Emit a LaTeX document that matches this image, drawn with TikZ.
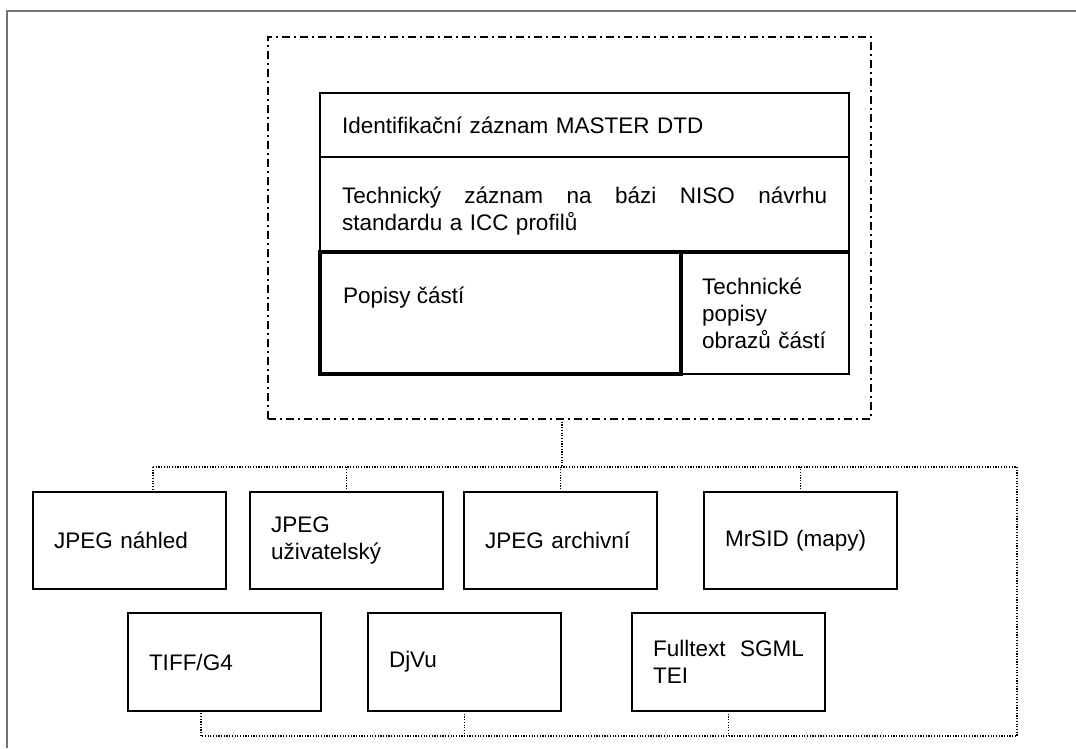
\documentclass[tikz,border=0pt]{standalone}
\usepackage{fontspec}
\setmainfont{Liberation Sans}
\usetikzlibrary{positioning}

\tikzset{
  cell/.style={draw, line width=1.2pt, anchor=north west, inner xsep=21pt, inner ysep=0pt, outer sep=0pt, align=left},
  fmtbox/.style={cell, text width=151pt, minimum height=97pt},
  dotline/.style={line width=1.2pt, dash pattern=on 1.2pt off 1.5pt},
  dashdotline/.style={line width=2pt, dash pattern=on 8pt off 4pt on 2pt off 4pt}
}

\begin{document}
\begin{tikzpicture}[x=1pt, y=-1pt, font=\fontsize{22.5}{27}\selectfont]
\useasboundingbox (0,0) rectangle (1076,748);
\draw[black!55, line width=1.5pt] (7,748) -- (7,11) -- (1076,11);

% master zaznam
\node[draw, dashdotline, anchor=north west, minimum width=603pt, minimum height=382pt, outer sep=0pt] (master) at (268,37) {};
\node[cell, text width=485pt, inner xsep=22pt, minimum height=64pt] (ident) at (320,93) {Identifikační záznam MASTER DTD};
\node[cell, minimum width=529pt, minimum height=95pt] (tech) at (320,157) {};
\node[anchor=north west, inner sep=0pt, align=left, text width=485pt] (techtxt) at (342,187)
  {\hbox to 485pt{Technický\hfill záznam\hfill na\hfill bázi\hfill NISO\hfill návrhu}\\standardu a ICC profilů};
\node[cell, text width=126pt, minimum height=122pt] (obraz) at (681,252) {Technické\\popisy\\obrazů částí};
\node[cell, line width=4pt, minimum width=361pt, minimum height=122pt] (popisy) at (320,252) {};
\draw[line width=4pt] (popisy.north east) -- (obraz.north east);
\node[anchor=west, inner sep=0pt] (popisytxt) at (343,298) {Popisy částí};

% formaty
\node[fmtbox] (nahled) at (33,492) {JPEG náhled};
\node[fmtbox] (uziv) at (250,492) {JPEG\\uživatelský};
\node[fmtbox] (arch) at (464,492) {JPEG archivní};
\node[fmtbox] (mrsid) at (704,492) {MrSID (mapy)};
\node[fmtbox, minimum height=98pt] (tiff) at (128,613) {TIFF/G4};
\node[fmtbox, minimum height=98pt] (djvu) at (368,613) {DjVu};
\node[fmtbox, minimum height=98pt] (fulltext) at (632,613) {\hbox to 151pt{Fulltext\hfill SGML}\\TEI};

% spojnice
\coordinate (busL) at (153,467);
\coordinate (busR) at (1017,467);
\coordinate (busB) at (1017,736);
\coordinate (busE) at (201,736);
\coordinate (drop) at (562,467);
\draw[dotline] (busL) -- (busR) -- (busB) -- (busE);
\draw[dotline] (drop |- master.south) -- (drop);
\draw[dotline] (busL) -- (busL |- nahled.north);
\draw[dotline] (uziv.north) -- (uziv.north |- busL);
\draw[dotline] (arch.north) -- (arch.north |- busL);
\draw[dotline] (mrsid.north) -- (mrsid.north |- busL);
\draw[dotline] (busE) -- (busE |- tiff.south);
\draw[dotline] (djvu.south) -- (djvu.south |- busE);
\draw[dotline] (fulltext.south) -- (fulltext.south |- busE);
\end{tikzpicture}
\end{document}
